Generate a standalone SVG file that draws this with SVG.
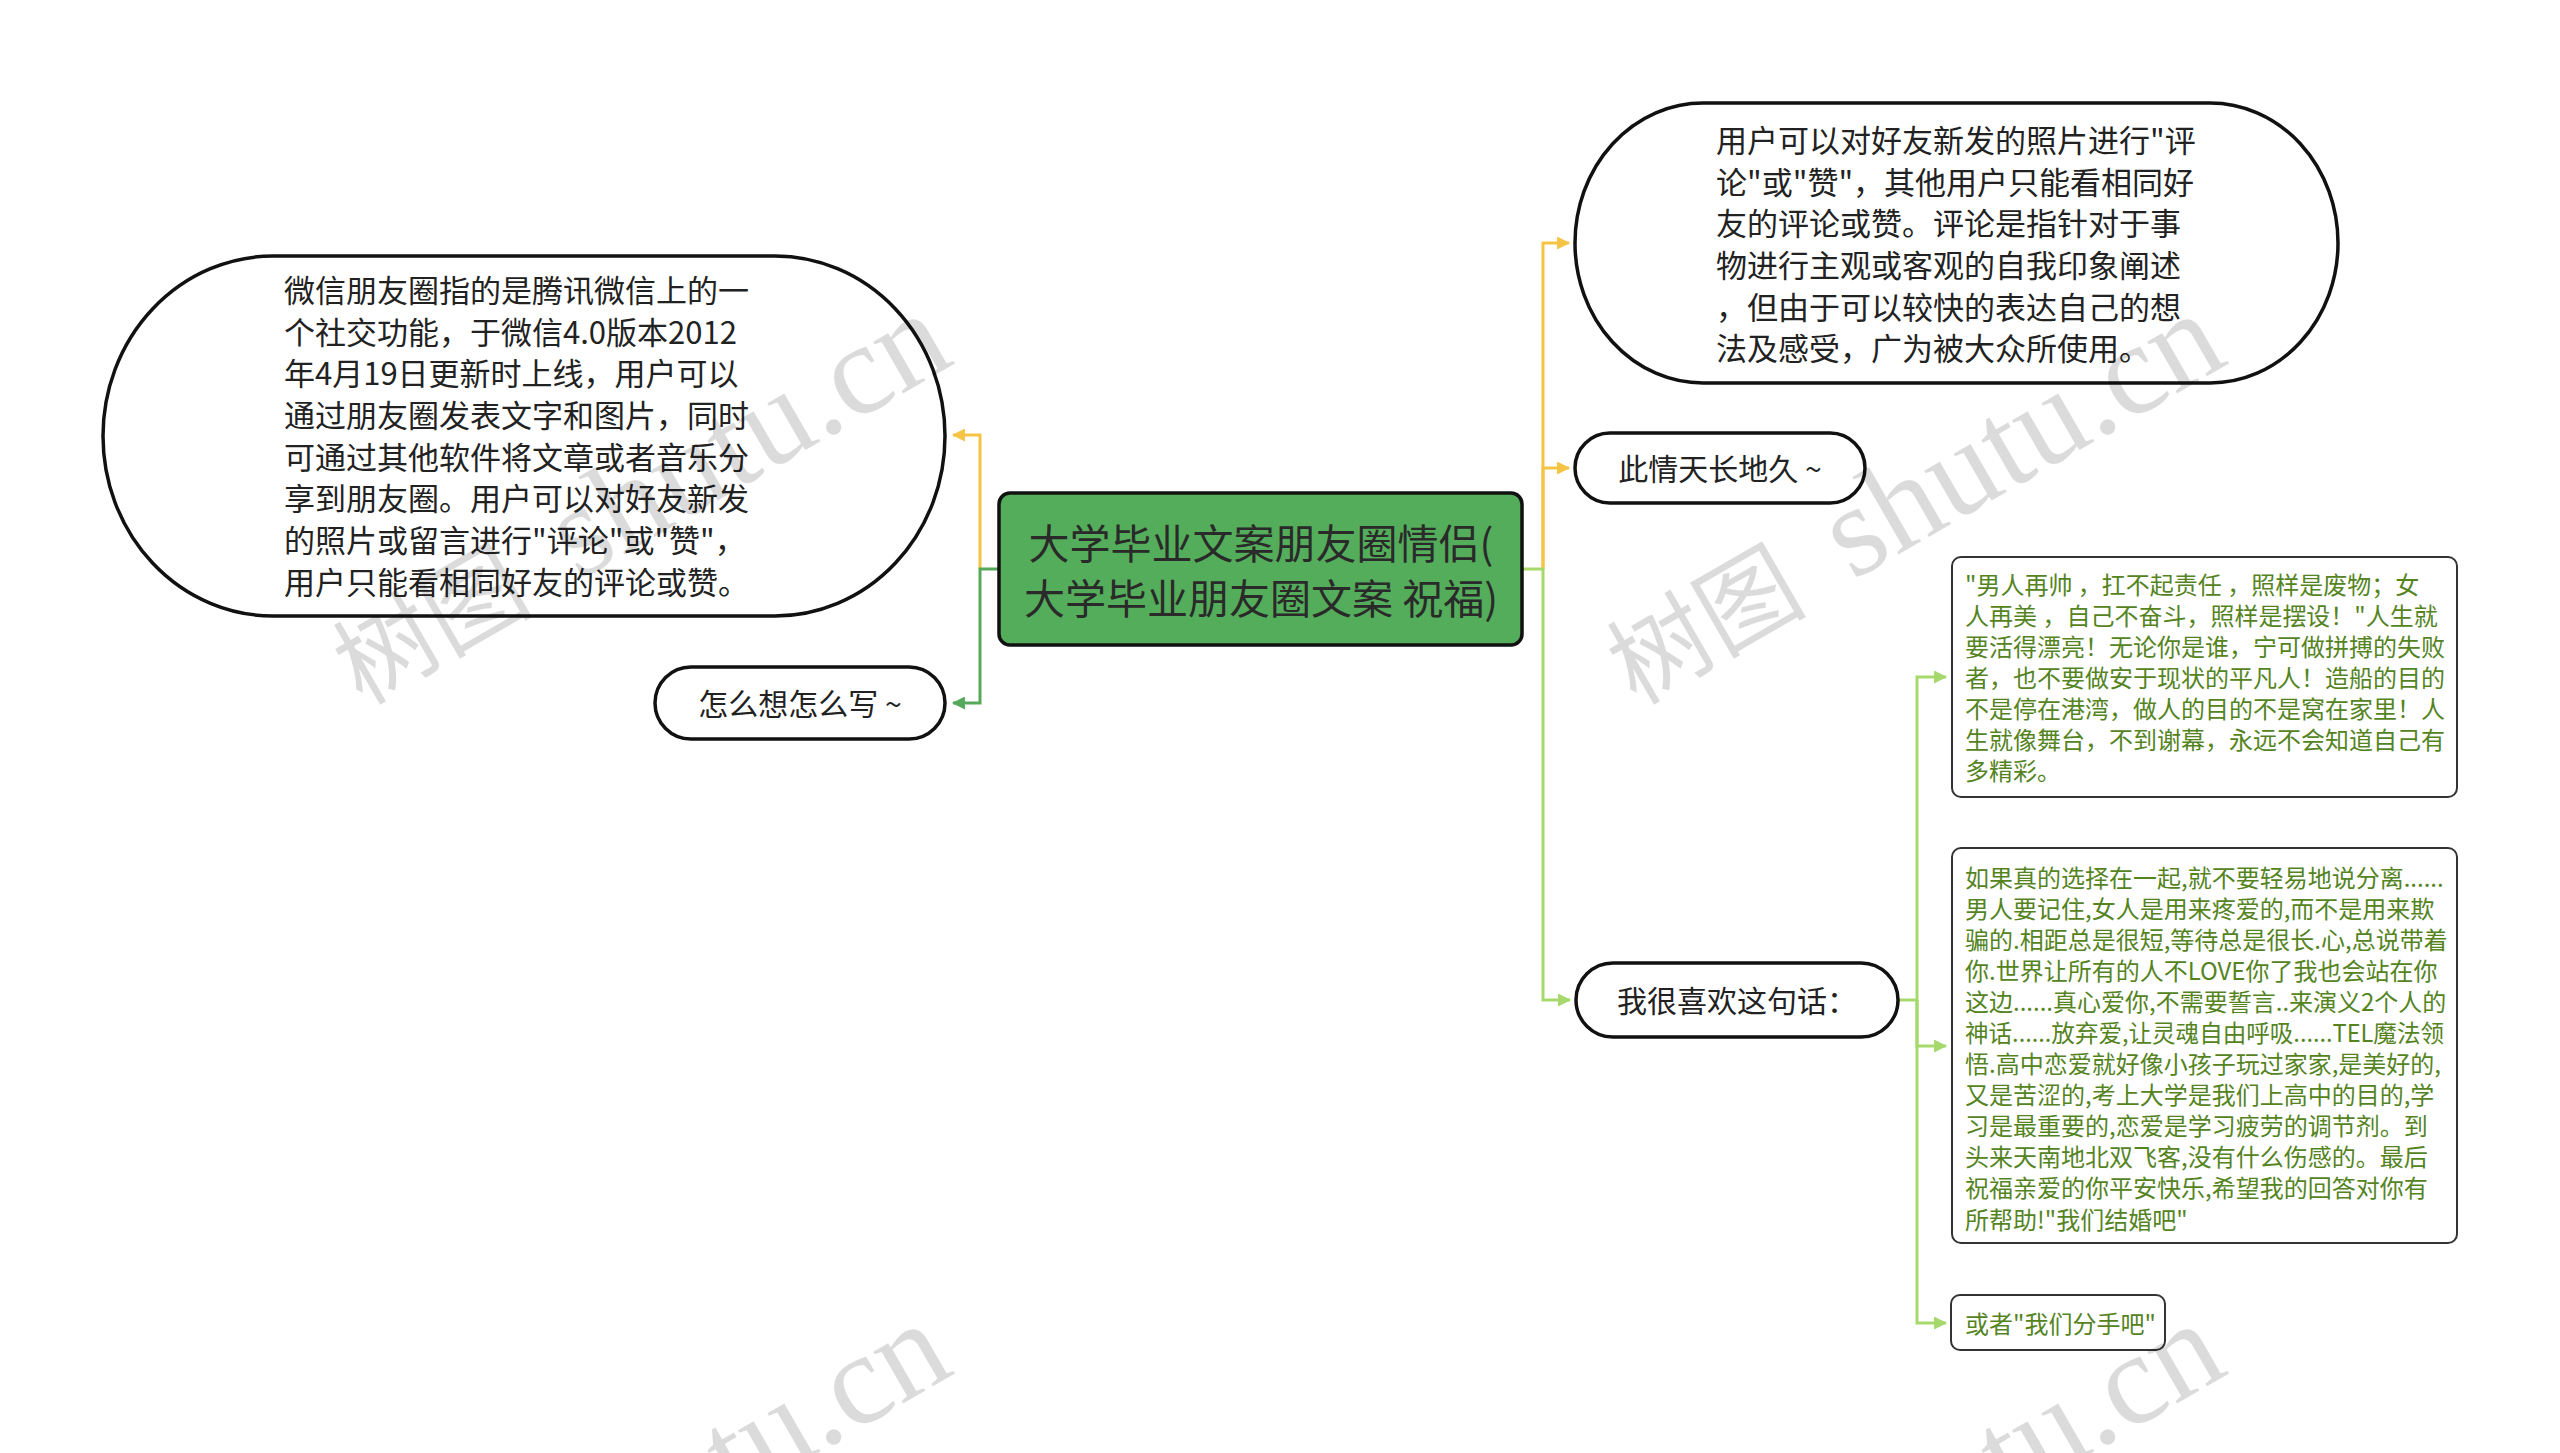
<svg xmlns="http://www.w3.org/2000/svg" width="2560" height="1453" viewBox="0 0 2560 1453">
<defs>
<style>
.t{font-family:"Noto Sans CJK SC","Microsoft YaHei",sans-serif;fill:#222;dominant-baseline:central}
.big{font-size:31px}
.mid{font-size:30px}
.cen{font-size:41px;fill:#2a2a2a;text-anchor:middle}
.grn{font-size:24px;fill:#55841f}
.node{fill:#fff;stroke:#111;stroke-width:3.5}
.box{fill:#fff;stroke:#333;stroke-width:2}
.c{fill:none;stroke-width:3}
.y{stroke:#f5c445}
.g{stroke:#55a95b}
.lg{stroke:#a5d96b}
.wm{font-family:"Liberation Serif","Noto Sans CJK SC",serif;fill:#000;fill-opacity:0.14}
</style>
<marker id="ay" viewBox="0 0 12 12" refX="11" refY="6" markerWidth="13" markerHeight="13" markerUnits="userSpaceOnUse" orient="auto"><path d="M0,0 L12,6 L0,12 z" fill="#f5c445"/></marker>
<marker id="ag" viewBox="0 0 12 12" refX="11" refY="6" markerWidth="13" markerHeight="13" markerUnits="userSpaceOnUse" orient="auto"><path d="M0,0 L12,6 L0,12 z" fill="#55a95b"/></marker>
<marker id="alg" viewBox="0 0 12 12" refX="11" refY="6" markerWidth="13" markerHeight="13" markerUnits="userSpaceOnUse" orient="auto"><path d="M0,0 L12,6 L0,12 z" fill="#a5d96b"/></marker>
</defs>
<rect width="2560" height="1453" fill="#fff"/>

<g id="connectors">
<path class="c y" d="M980,569 V435 H953" marker-end="url(#ay)"/>
<path class="c g" d="M999,569 H980 V703 H953" marker-end="url(#ag)"/>
<path class="c y" d="M1543,569 V243 H1569" marker-end="url(#ay)"/>
<path class="c y" d="M1543,569 V468 H1569" marker-end="url(#ay)"/>
<path class="c lg" d="M1522,569 H1543 V1000 H1570" marker-end="url(#alg)"/>
<path class="c lg" d="M1898,1000 H1917 V677 H1946" marker-end="url(#alg)"/>
<path class="c lg" d="M1917,1000 V1046 H1946" marker-end="url(#alg)"/>
<path class="c lg" d="M1917,1000 V1323 H1946" marker-end="url(#alg)"/>
</g>

<g id="center">
<rect x="999" y="493" width="523" height="152" rx="11" fill="#54ad5a" stroke="#111" stroke-width="3.5"/>
<text class="t cen" x="1261" y="541">大学毕业文案朋友圈情侣(</text>
<text class="t cen" x="1261" y="596">大学毕业朋友圈文案 祝福)</text>
</g>

<g id="node-wechat">
<rect class="node" x="103" y="256" width="842" height="360" rx="170" ry="180"/>
<text class="t big" x="284" y="288">微信朋友圈指的是腾讯微信上的一</text>
<text class="t big" x="284" y="330">个社交功能，于微信4.0版本2012</text>
<text class="t big" x="284" y="371">年4月19日更新时上线，用户可以</text>
<text class="t big" x="284" y="413">通过朋友圈发表文字和图片，同时</text>
<text class="t big" x="284" y="455">可通过其他软件将文章或者音乐分</text>
<text class="t big" x="284" y="496">享到朋友圈。用户可以对好友新发</text>
<text class="t big" x="284" y="538">的照片或留言进行"评论"或"赞"，</text>
<text class="t big" x="284" y="580">用户只能看相同好友的评论或赞。</text>
</g>

<g id="node-howto">
<rect class="node" x="655" y="667" width="290" height="72" rx="36"/>
<text class="t mid" x="800" y="702" text-anchor="middle">怎么想怎么写 ~</text>
</g>

<g id="node-comment">
<rect class="node" x="1575" y="103" width="763" height="280" rx="128" ry="140"/>
<text class="t big" x="1716" y="138">用户可以对好友新发的照片进行"评</text>
<text class="t big" x="1716" y="180">论"或"赞"，其他用户只能看相同好</text>
<text class="t big" x="1716" y="221">友的评论或赞。评论是指针对于事</text>
<text class="t big" x="1716" y="263">物进行主观或客观的自我印象阐述</text>
<text class="t big" x="1716" y="305">，但由于可以较快的表达自己的想</text>
<text class="t big" x="1716" y="346">法及感受，广为被大众所使用。</text>
</g>

<g id="node-forever">
<rect class="node" x="1575" y="433" width="290" height="70" rx="35"/>
<text class="t mid" x="1720" y="467" text-anchor="middle">此情天长地久 ~</text>
</g>

<g id="node-like">
<rect class="node" x="1576" y="963" width="322" height="74" rx="37"/>
<text class="t mid" x="1737" y="999" text-anchor="middle">我很喜欢这句话：</text>
</g>

<g id="node-quote1">
<rect class="box" x="1952" y="557" width="505" height="240" rx="9"/>
<text class="t grn" x="1965" y="583">"男人再帅 ，扛不起责任 ，照样是废物；女</text>
<text class="t grn" x="1965" y="614">人再美 ，自己不奋斗，照样是摆设！"人生就</text>
<text class="t grn" x="1965" y="645">要活得漂亮！无论你是谁，宁可做拼搏的失败</text>
<text class="t grn" x="1965" y="676">者，也不要做安于现状的平凡人！造船的目的</text>
<text class="t grn" x="1965" y="707">不是停在港湾，做人的目的不是窝在家里！人</text>
<text class="t grn" x="1965" y="738">生就像舞台，不到谢幕，永远不会知道自己有</text>
<text class="t grn" x="1965" y="769">多精彩。</text>
</g>

<g id="node-quote2">
<rect class="box" x="1952" y="848" width="505" height="395" rx="9"/>
<text class="t grn" x="1965" y="876">如果真的选择在一起,就不要轻易地说分离......</text>
<text class="t grn" x="1965" y="907">男人要记住,女人是用来疼爱的,而不是用来欺</text>
<text class="t grn" x="1965" y="938">骗的.相距总是很短,等待总是很长.心,总说带着</text>
<text class="t grn" x="1965" y="969">你.世界让所有的人不LOVE你了我也会站在你</text>
<text class="t grn" x="1965" y="1000">这边......真心爱你,不需要誓言..来演义2个人的</text>
<text class="t grn" x="1965" y="1031" textLength="479" lengthAdjust="spacingAndGlyphs">神话......放弃爱,让灵魂自由呼吸......TEL魔法领</text>
<text class="t grn" x="1965" y="1062">悟.高中恋爱就好像小孩子玩过家家,是美好的,</text>
<text class="t grn" x="1965" y="1093">又是苦涩的,考上大学是我们上高中的目的,学</text>
<text class="t grn" x="1965" y="1124">习是最重要的,恋爱是学习疲劳的调节剂。到</text>
<text class="t grn" x="1965" y="1155">头来天南地北双飞客,没有什么伤感的。最后</text>
<text class="t grn" x="1965" y="1186">祝福亲爱的你平安快乐,希望我的回答对你有</text>
<text class="t grn" x="1965" y="1218">所帮助!"我们结婚吧"</text>
</g>

<g id="node-quote3">
<rect class="box" x="1951" y="1295" width="214" height="55" rx="9"/>
<text class="t grn" x="1965" y="1322">或者"我们分手吧"</text>
</g>

<g id="watermarks">
<text class="wm" transform="translate(362,706) rotate(-30)"><tspan font-size="100">树图</tspan><tspan font-size="130" dx="50">shutu.cn</tspan></text>
<text class="wm" transform="translate(1636,706) rotate(-30)"><tspan font-size="100">树图</tspan><tspan font-size="130" dx="50">shutu.cn</tspan></text>
<text class="wm" transform="translate(362,1716) rotate(-30)"><tspan font-size="100">树图</tspan><tspan font-size="130" dx="50">shutu.cn</tspan></text>
<text class="wm" transform="translate(1636,1716) rotate(-30)"><tspan font-size="100">树图</tspan><tspan font-size="130" dx="50">shutu.cn</tspan></text>
</g>
</svg>
